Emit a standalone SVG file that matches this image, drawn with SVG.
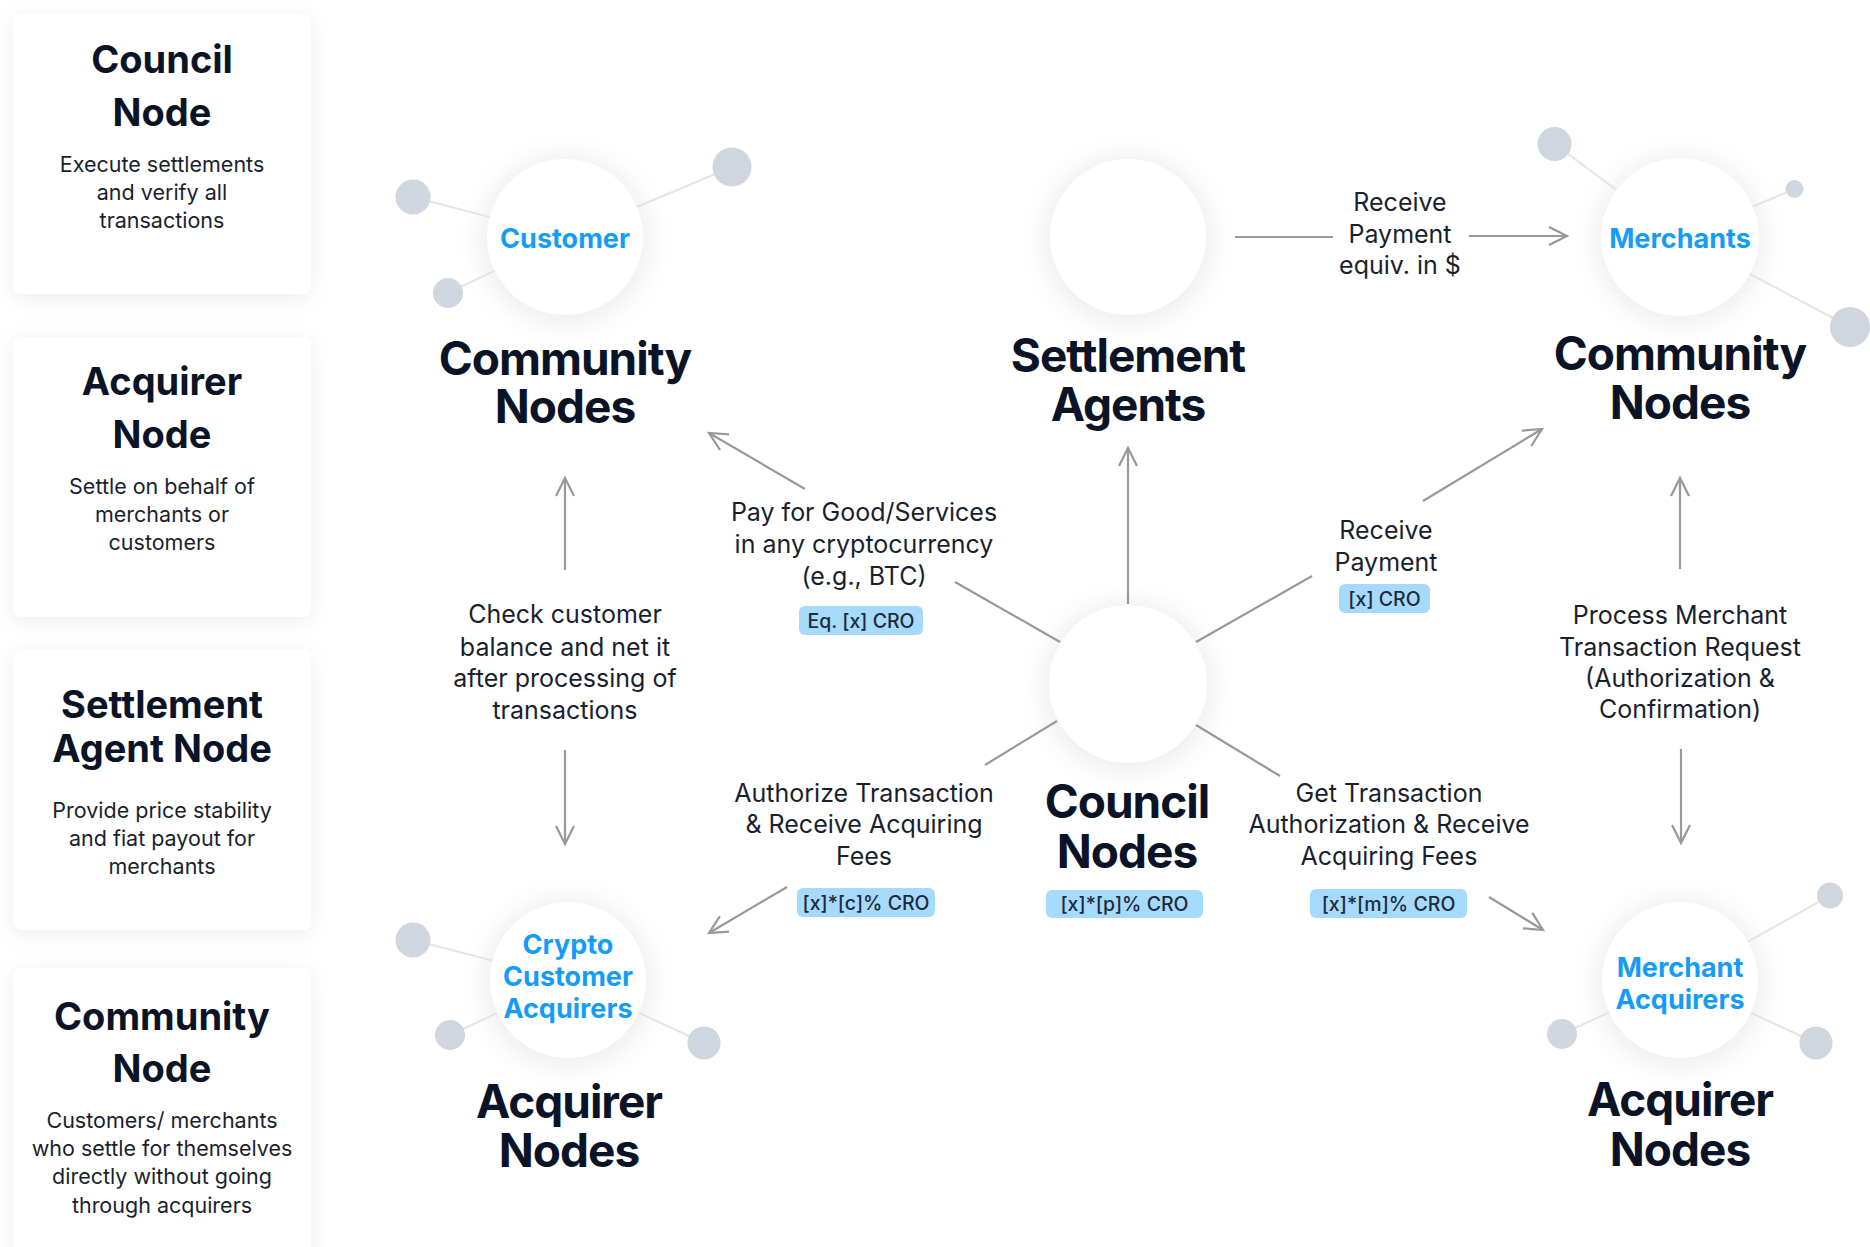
<svg xmlns="http://www.w3.org/2000/svg" width="1870" height="1247" viewBox="0 0 1870 1247">
<defs>
<filter id="glow" x="-50%" y="-50%" width="200%" height="200%">
<feGaussianBlur stdDeviation="14"/>
</filter>
<filter id="cardShadow" x="-20%" y="-20%" width="140%" height="140%">
<feDropShadow dx="0" dy="4" stdDeviation="10" flood-color="#000" flood-opacity="0.07"/>
</filter>
<marker id="arr" markerUnits="userSpaceOnUse" markerWidth="24" markerHeight="24" viewBox="0 0 24 24" refX="21" refY="12" orient="auto">
<path d="M3,3 L21,12 L3,21" fill="none" stroke="#999" stroke-width="2.2"/>
</marker>
</defs>
<style>
.card{fill:#fff;filter:url(#cardShadow)}
.ch{font-family:Inter,"Liberation Sans",sans-serif;font-weight:700;font-size:38px;fill:#0b1426;text-anchor:middle}
.cd{font-family:Inter,"Liberation Sans",sans-serif;font-size:21.5px;fill:#1a1f2e;text-anchor:middle}
.hd{font-family:Inter,"Liberation Sans",sans-serif;font-weight:700;font-size:46px;letter-spacing:-1px;fill:#0b1426;text-anchor:middle}
.bl{font-family:Inter,"Liberation Sans",sans-serif;font-weight:700;font-size:27px;fill:#159cf6;text-anchor:middle}
.lb{font-family:Inter,"Liberation Sans",sans-serif;font-size:25px;fill:#1a1f2e;text-anchor:middle}
.bt{font-family:Inter,"Liberation Sans",sans-serif;font-weight:500;font-size:19.5px;fill:#1e2a3a;text-anchor:middle}
.bg{fill:#a6dafd}
.gl{fill:#000;opacity:0.07;filter:url(#glow)}
.wc{fill:#fff}
.sl{stroke:#e2e4e8;stroke-width:2}
.sat{fill:#cfd6df}
.cn{stroke:#999;stroke-width:2.2;fill:none}
.ar{marker-end:url(#arr)}
</style>
<rect width="1870" height="1247" fill="#fff"/>

<g id="card-council">
<rect class="card" x="13" y="14" width="298" height="280" rx="9"/>
<text class="ch" x="162" y="73">Council</text>
<text class="ch" x="162" y="126">Node</text>
<text class="cd" x="162" y="172">Execute settlements</text>
<text class="cd" x="162" y="200">and verify all</text>
<text class="cd" x="162" y="228">transactions</text>
</g>
<g id="card-acquirer">
<rect class="card" x="13" y="337" width="298" height="280" rx="9"/>
<text class="ch" x="162" y="395">Acquirer</text>
<text class="ch" x="162" y="448">Node</text>
<text class="cd" x="162" y="494">Settle on behalf of</text>
<text class="cd" x="162" y="522">merchants or</text>
<text class="cd" x="162" y="550">customers</text>
</g>
<g id="card-settlement">
<rect class="card" x="13" y="650" width="298" height="280" rx="9"/>
<text class="ch" x="162" y="718">Settlement</text>
<text class="ch" x="162" y="762">Agent Node</text>
<text class="cd" x="162" y="818">Provide price stability</text>
<text class="cd" x="162" y="846">and fiat payout for</text>
<text class="cd" x="162" y="874">merchants</text>
</g>
<g id="card-community">
<rect class="card" x="13" y="968" width="298" height="300" rx="9"/>
<text class="ch" x="162" y="1030">Community</text>
<text class="ch" x="162" y="1082">Node</text>
<text class="cd" x="162" y="1128">Customers/ merchants</text>
<text class="cd" x="162" y="1156">who settle for themselves</text>
<text class="cd" x="162" y="1184">directly without going</text>
<text class="cd" x="162" y="1213">through acquirers</text>
</g>

<g id="customer-node">
<circle class="gl" cx="565" cy="240" r="84"/>
<line class="sl" x1="413" y1="197" x2="565" y2="237"/>
<line class="sl" x1="448" y1="293" x2="565" y2="237"/>
<line class="sl" x1="732" y1="167" x2="565" y2="237"/>
<circle class="sat" cx="413" cy="197" r="17.5"/>
<circle class="sat" cx="448" cy="293" r="15"/>
<circle class="sat" cx="732" cy="167" r="19.5"/>
<circle class="wc" cx="565" cy="237" r="78"/>
<text class="bl" x="565" y="248">Customer</text>
<text class="hd" x="565" y="375">Community</text>
<text class="hd" x="565" y="423">Nodes</text>
</g>

<g id="settlement-node">
<circle class="gl" cx="1128" cy="240" r="84"/>
<circle class="wc" cx="1128" cy="237" r="78"/>
<text class="hd" x="1128" y="372">Settlement</text>
<text class="hd" x="1128" y="421">Agents</text>
</g>

<g id="merchants-node">
<circle class="gl" cx="1680" cy="240" r="84"/>
<line class="sl" x1="1554.5" y1="144" x2="1680" y2="237"/>
<line class="sl" x1="1794.5" y1="189" x2="1680" y2="237"/>
<line class="sl" x1="1850" y1="327" x2="1680" y2="237"/>
<circle class="sat" cx="1554.5" cy="144" r="17"/>
<circle class="sat" cx="1794.5" cy="189" r="9"/>
<circle class="sat" cx="1850" cy="327" r="20"/>
<circle class="wc" cx="1680" cy="237" r="79"/>
<text class="bl" x="1680" y="248">Merchants</text>
<text class="hd" x="1680" y="370">Community</text>
<text class="hd" x="1680" y="419">Nodes</text>
</g>

<g id="council-node">
<circle class="gl" cx="1128" cy="687" r="85"/>
<circle class="wc" cx="1128" cy="684" r="79"/>
<text class="hd" x="1127" y="818">Council</text>
<text class="hd" x="1127" y="868">Nodes</text>
<rect class="bg" x="1046" y="890" width="157" height="28" rx="6"/>
<text class="bt" x="1124.5" y="911">[x]*[p]% CRO</text>
</g>

<g id="crypto-acquirer-node">
<circle class="gl" cx="568" cy="983" r="84"/>
<line class="sl" x1="413" y1="940" x2="568" y2="980"/>
<line class="sl" x1="450" y1="1035" x2="568" y2="980"/>
<line class="sl" x1="704" y1="1043" x2="568" y2="980"/>
<circle class="sat" cx="413" cy="940" r="17.5"/>
<circle class="sat" cx="450" cy="1035" r="15"/>
<circle class="sat" cx="704" cy="1043" r="16.5"/>
<circle class="wc" cx="568" cy="980" r="78"/>
<text class="bl" x="568" y="954">Crypto</text>
<text class="bl" x="568" y="986">Customer</text>
<text class="bl" x="568" y="1018">Acquirers</text>
<text class="hd" x="569" y="1118">Acquirer</text>
<text class="hd" x="569" y="1167">Nodes</text>
</g>

<g id="merchant-acquirer-node">
<circle class="gl" cx="1680" cy="983" r="84"/>
<line class="sl" x1="1830" y1="895.5" x2="1680" y2="980"/>
<line class="sl" x1="1562" y1="1034" x2="1680" y2="980"/>
<line class="sl" x1="1816" y1="1043" x2="1680" y2="980"/>
<circle class="sat" cx="1830" cy="895.5" r="13"/>
<circle class="sat" cx="1562" cy="1034" r="15"/>
<circle class="sat" cx="1816" cy="1043" r="16.5"/>
<circle class="wc" cx="1680" cy="980" r="78"/>
<text class="bl" x="1680" y="977">Merchant</text>
<text class="bl" x="1680" y="1009">Acquirers</text>
<text class="hd" x="1680" y="1116">Acquirer</text>
<text class="hd" x="1680" y="1166">Nodes</text>
</g>

<g id="connectors">
<line class="cn" x1="1235" y1="237" x2="1333" y2="237"/>
<line class="cn ar" x1="1469" y1="236" x2="1567" y2="236"/>
<line class="cn ar" x1="565" y1="570" x2="565" y2="478"/>
<line class="cn ar" x1="565" y1="750" x2="565" y2="844"/>
<line class="cn ar" x1="1680" y1="569" x2="1680" y2="478"/>
<line class="cn ar" x1="1681" y1="749" x2="1681" y2="843"/>
<line class="cn ar" x1="1128" y1="604" x2="1128" y2="448"/>
<line class="cn" x1="1060" y1="642" x2="955" y2="582"/>
<line class="cn ar" x1="805" y1="489" x2="709" y2="433"/>
<line class="cn" x1="1196" y1="642" x2="1312" y2="576"/>
<line class="cn ar" x1="1423" y1="501" x2="1542" y2="429"/>
<line class="cn" x1="1057" y1="721" x2="985" y2="765"/>
<line class="cn ar" x1="787" y1="887" x2="709" y2="933"/>
<line class="cn" x1="1196" y1="725" x2="1280" y2="776"/>
<line class="cn ar" x1="1489" y1="897" x2="1543" y2="930"/>
</g>

<g id="labels">
<text class="lb" x="1400" y="211">Receive</text>
<text class="lb" x="1400" y="243">Payment</text>
<text class="lb" x="1400" y="274">equiv. in $</text>

<text class="lb" x="864" y="521">Pay for Good/Services</text>
<text class="lb" x="864" y="553">in any cryptocurrency</text>
<text class="lb" x="864" y="585">(e.g., BTC)</text>
<rect class="bg" x="799" y="606" width="124" height="29" rx="6"/>
<text class="bt" x="861" y="627.5">Eq. [x] CRO</text>

<text class="lb" x="1386" y="539">Receive</text>
<text class="lb" x="1386" y="571">Payment</text>
<rect class="bg" x="1339" y="584" width="91" height="29" rx="6"/>
<text class="bt" x="1384.5" y="605.5">[x] CRO</text>

<text class="lb" x="565" y="623">Check customer</text>
<text class="lb" x="565" y="656">balance and net it</text>
<text class="lb" x="565" y="687">after processing of</text>
<text class="lb" x="565" y="719">transactions</text>

<text class="lb" x="1680" y="624">Process Merchant</text>
<text class="lb" x="1680" y="656">Transaction Request</text>
<text class="lb" x="1680" y="687">(Authorization &amp;</text>
<text class="lb" x="1680" y="718">Confirmation)</text>

<text class="lb" x="864" y="802">Authorize Transaction</text>
<text class="lb" x="864" y="833">&amp; Receive Acquiring</text>
<text class="lb" x="864" y="865">Fees</text>
<rect class="bg" x="797" y="888" width="138" height="29" rx="6"/>
<text class="bt" x="866" y="909.5">[x]*[c]% CRO</text>

<text class="lb" x="1389" y="802">Get Transaction</text>
<text class="lb" x="1389" y="833">Authorization &amp; Receive</text>
<text class="lb" x="1389" y="865">Acquiring Fees</text>
<rect class="bg" x="1310" y="889" width="157" height="29" rx="6"/>
<text class="bt" x="1388.5" y="910.5">[x]*[m]% CRO</text>
</g>
</svg>
